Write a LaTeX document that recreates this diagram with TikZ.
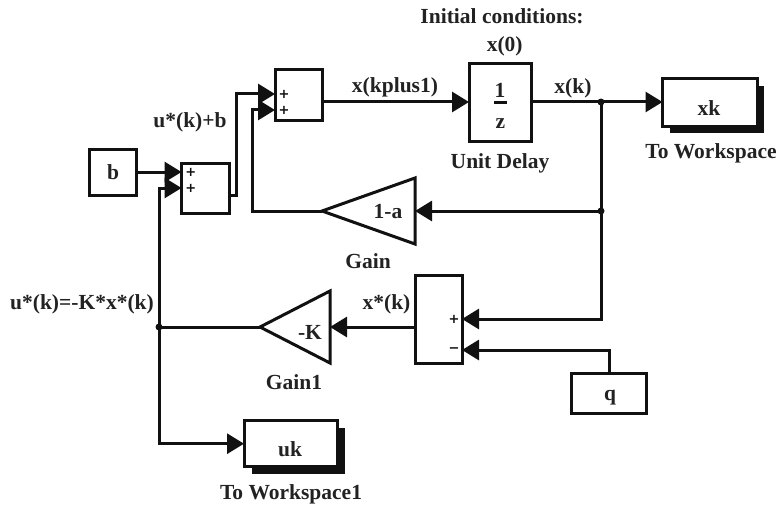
\documentclass[tikz,border=0pt]{standalone}
\usepackage{fontspec}
\setmainfont{Liberation Serif}
\newfontfamily\signfont{DejaVu Sans}
\usetikzlibrary{arrows.meta,shapes.geometric}
\definecolor{ink}{HTML}{111111}
\definecolor{txt}{HTML}{222222}
\tikzset{
  blockbox/.style={draw=ink,line width=3pt,fill=white,inner sep=0pt,outer sep=0pt,anchor=north west},
  gainbox/.style={draw=ink,line width=3pt,fill=white,inner sep=0pt,outer sep=0pt,isosceles triangle,isosceles triangle stretches,shape border rotate=180,anchor=apex},
  shadowbox/.style={fill=ink,inner sep=0pt,outer sep=0pt,anchor=north west},
  lab/.style={font=\fontsize{21.5}{21.5}\selectfont\bfseries,text=txt,inner sep=0pt,text height=.7em,text depth=.2em,yshift=-4pt},
  sgn/.style={font=\fontsize{13}{13}\selectfont\signfont\bfseries,text=ink,inner sep=0pt},
  wire/.style={draw=ink,line width=3pt,line join=miter},
  arr/.style={wire,-{Triangle[length=17pt,width=20pt]}},
  junction/.style={circle,fill=ink,inner sep=0pt,minimum size=7pt},
}
\begin{document}
\begin{tikzpicture}[x=1pt,y=-1pt]
\useasboundingbox (0,0) rectangle (778,508);
% shadows
\node[shadowbox,minimum width=94pt,minimum height=47pt] (xkshadow) at (670,86) {};
\node[shadowbox,minimum width=93pt,minimum height=46pt] (ukshadow) at (252,428) {};
% blocks
\node[blockbox,minimum width=47.5pt,minimum height=46.5pt] (b) at (89,149) {};
\node[blockbox,minimum width=47.5pt,minimum height=50pt] (sumA) at (181.5,163) {};
\node[blockbox,minimum width=47.5pt,minimum height=50pt] (sumB) at (275,70) {};
\node[blockbox,minimum width=62.5pt,minimum height=78.5pt] (delay) at (469,63.3) {};
\node[blockbox,minimum width=94.5pt,minimum height=47pt] (xk) at (662.5,79) {};
\node[blockbox,minimum width=93pt,minimum height=46pt] (uk) at (244,420.7) {};
\node[blockbox,minimum width=47pt,minimum height=87.5pt] (sumC) at (415,275.7) {};
\node[blockbox,minimum width=75pt,minimum height=40pt] (q) at (571.7,373) {};
\node[gainbox,minimum height=93pt,minimum width=66pt] (gain) at (322,211) {};
\node[gainbox,minimum height=70pt,minimum width=72pt] (gainK) at (260,327) {};
% ports and junctions
\coordinate (sumAin1) at (sumA.west |- 0,172);
\coordinate (sumAin2) at (sumA.west |- 0,188);
\coordinate (sumAout) at (sumA.east |- 0,195.7);
\coordinate (sumBin1) at (sumB.west |- 0,94);
\coordinate (sumBin2) at (sumB.west |- 0,110);
\coordinate (sumBout) at (sumB.east |- 0,102);
\coordinate (delayin) at (delay.west |- 0,102);
\coordinate (delayout) at (delay.east |- 0,102);
\coordinate (xkin) at (xk.west |- 0,102);
\coordinate (sumCin1) at (sumC.east |- 0,319);
\coordinate (sumCin2) at (sumC.east |- 0,350);
\coordinate (sumCout) at (sumC.west |- 0,327);
\coordinate (gainin) at (415,211);
\coordinate (gainKin) at (330,327);
\coordinate (ukin) at (uk.west |- 0,443.7);
\coordinate (qout) at (q.north -| 609,0);
\node[junction] (jA) at (601,102) {};
\node[junction] (jB) at (601,211) {};
\node[junction] (jC) at (159,327) {};
% connectors
\draw[arr] (b.east |- sumAin1) -- (sumAin1);
\draw[arr] (jC.center) -- (159,188) -- (sumAin2);
\draw[arr] (sumAout) -- (236.7,195.7) -- (236.7,94) -- (sumBin1);
\draw[arr] (gain.apex) -- (252.7,211) -- (252.7,110) -- (sumBin2);
\draw[arr] (sumBout) -- (delayin);
\draw[wire] (delayout) -- (jA.center);
\draw[arr] (jA.center) -- (xkin);
\draw[wire] (jA.center) -- (jB.center);
\draw[arr] (jB.center) -- (gainin);
\draw[arr] (jB.center) -- (601,319) -- (sumCin1);
\draw[arr] (qout) -- (609,350) -- (sumCin2);
\draw[arr] (sumCout) -- (gainKin);
\draw[wire] (gainK.apex) -- (jC.center);
\draw[arr] (jC.center) -- (159,443.7) -- (ukin);
% signs
\node[sgn] (p1) at (190.7,172.5) {+};
\node[sgn] (p2) at (190.7,188) {+};
\node[sgn] (p3) at (284,94) {+};
\node[sgn] (p4) at (284,110) {+};
\node[sgn] (p5) at (454,319) {+};
\node[sgn] (m1) at (454,350) {\char"2212};
% block text
\node[lab] (tb) at (113,173) {b};
\node[lab] (t1) at (500,91.5) {1};
\draw[wire] (494,103) -- (507,103);
\node[lab] (tz) at (500.5,122) {z};
\node[lab] (txk) at (709,109.5) {xk};
\node[lab] (tuk) at (290,450) {uk};
\node[lab] (tq) at (610,394) {q};
\node[lab] (ta) at (388,212) {1-a};
\node[lab] (tK) at (310,333) {-K};
% labels
\node[lab] at (502,17) {Initial conditions:};
\node[lab] at (504.7,45) {x(0)};
\node[lab] at (395,86) {x(kplus1)};
\node[lab] at (573,87) {x(k)};
\node[lab] at (500,162) {Unit Delay};
\node[lab] at (711,152) {To Workspace};
\node[lab] at (190,121) {u*(k)+b};
\node[lab] at (368,262) {Gain};
\node[lab] at (294,383) {Gain1};
\node[lab] at (291,493) {To Workspace1};
\node[lab] at (386.5,303) {x*(k)};
\node[lab] at (82,303) {u*(k)=-K*x*(k)};
\end{tikzpicture}
\end{document}
